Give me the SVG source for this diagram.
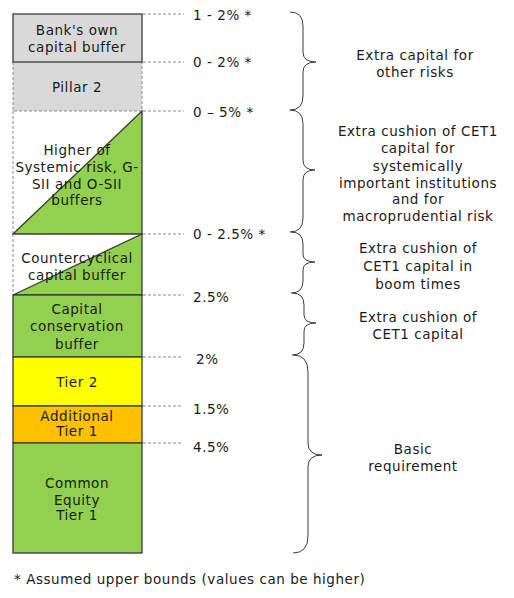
<svg xmlns="http://www.w3.org/2000/svg" width="514" height="598" viewBox="0 0 514 598">
<style>
text{font-family:"DejaVu Sans",Verdana,sans-serif;font-size:13.5px;letter-spacing:0.55px;fill:#1a1a1a;text-anchor:middle}
.l{text-anchor:start}
.solid{stroke:#3a3a3a;stroke-width:1.3}
.dash{stroke:#8a8a8a;stroke-width:1;stroke-dasharray:3 2;fill:none}
.brace{fill:none;stroke:#3a3a3a;stroke-width:1}
</style>
<rect width="514" height="598" fill="#fff"/>
<g id="connectors">
<line class="dash" x1="143" y1="14" x2="184" y2="14"/>
<line class="dash" x1="143" y1="62" x2="184" y2="62"/>
<line class="dash" x1="143" y1="111" x2="184" y2="111"/>
<line class="dash" x1="143" y1="234" x2="184" y2="234"/>
<line class="dash" x1="143" y1="295" x2="184" y2="295"/>
<line class="dash" x1="143" y1="357" x2="182" y2="357"/>
<line class="dash" x1="143" y1="406" x2="182" y2="406"/>
<line class="dash" x1="143" y1="443" x2="182" y2="443"/>
</g>
<g id="pillar2">
<rect x="13" y="62" width="129" height="49" fill="#d9d9d9"/>
<path class="dash" d="M13 62V111H142V62"/>
<text x="77" y="92">Pillar 2</text>
</g>
<g id="bank-buffer">
<rect x="13" y="14" width="129" height="48" fill="#d9d9d9" class="solid"/>
<text x="77" y="35">Bank's own</text>
<text x="77" y="52">capital buffer</text>
</g>
<g id="systemic">
<path class="dash" d="M13 111V234"/>
<polygon points="13,234 142,111 142,234" fill="#92d050" class="solid"/>
<text x="77" y="155">Higher of</text>
<text x="77" y="172">Systemic risk, G-</text>
<text x="77" y="189">SII and O-SII</text>
<text x="77" y="205">buffers</text>
</g>
<g id="countercyclical">
<path class="dash" d="M13 234V295"/>
<polygon points="13,295 142,234 142,295" fill="#92d050" class="solid"/>
<text x="77" y="263">Countercyclical</text>
<text x="77" y="280">capital buffer</text>
</g>
<g id="conservation">
<rect x="13" y="295" width="129" height="62" fill="#92d050" class="solid"/>
<text x="77" y="314">Capital</text>
<text x="77" y="331">conservation</text>
<text x="77" y="349">buffer</text>
</g>
<g id="tier2">
<rect x="13" y="357" width="129" height="49" fill="#ffff00" class="solid"/>
<text x="77" y="387">Tier 2</text>
</g>
<g id="at1">
<rect x="13" y="406" width="129" height="37" fill="#ffc000" class="solid"/>
<text x="77" y="421">Additional</text>
<text x="77" y="436">Tier 1</text>
</g>
<g id="cet1">
<rect x="13" y="443" width="129" height="110" fill="#92d050" class="solid"/>
<text x="77" y="488">Common</text>
<text x="77" y="505">Equity</text>
<text x="77" y="520">Tier 1</text>
</g>
<g id="percent-labels">
<text class="l" x="193" y="20">1 - 2% *</text>
<text class="l" x="193" y="67">0 - 2% *</text>
<text class="l" x="193" y="117">0 – 5% *</text>
<text class="l" x="193" y="239">0 - 2.5% *</text>
<text class="l" x="193" y="302">2.5%</text>
<text class="l" x="196" y="364">2%</text>
<text class="l" x="193" y="414">1.5%</text>
<text class="l" x="193" y="452">4.5%</text>
</g>
<g id="brace-other">
<path class="brace" d="M290 12Q303 12 303 26V52Q303 62 316 62Q303 62 303 72V96Q303 110 290 110"/>
<text x="415" y="60">Extra capital for</text>
<text x="415" y="77">other risks</text>
</g>
<g id="brace-systemic">
<path class="brace" d="M290 110Q303 110 303 124V160Q303 170 315 170Q303 170 303 180V218Q303 232 290 232"/>
<text x="418" y="136">Extra cushion of CET1</text>
<text x="418" y="153">capital for</text>
<text x="418" y="171">systemically</text>
<text x="418" y="188">important institutions</text>
<text x="418" y="204">and for</text>
<text x="418" y="221">macroprudential risk</text>
</g>
<g id="brace-boom">
<path class="brace" d="M291 232Q303 232 303 244V254Q303 262 315 262Q303 262 303 270V281Q303 293 291 293"/>
<text x="418" y="253">Extra cushion of</text>
<text x="418" y="271">CET1 capital in</text>
<text x="418" y="289">boom times</text>
</g>
<g id="brace-conservation">
<path class="brace" d="M292 293Q304 293 304 305V315Q304 323 316 323Q304 323 304 331V343Q304 355 292 355"/>
<text x="418" y="322">Extra cushion of</text>
<text x="418" y="339">CET1 capital</text>
</g>
<g id="brace-basic">
<path class="brace" d="M293 355Q308 355 308 372V443Q308 455 322 455Q308 455 308 467V536Q308 553 293 553"/>
<text x="413" y="454">Basic</text>
<text x="413" y="471">requirement</text>
</g>
<text class="l" x="14" y="584">* Assumed upper bounds (values can be higher)</text>
</svg>
